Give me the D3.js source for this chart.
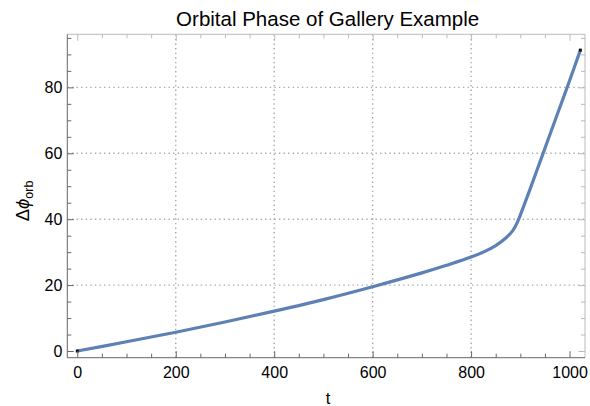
<!DOCTYPE html>
<html><head><meta charset="utf-8">
<script src="https://cdn.jsdelivr.net/npm/d3@7"></script>
<style>body{margin:0;background:#fff}svg{display:block}text{font-family:"Liberation Sans",Arial,sans-serif}</style>
</head><body><svg id="c" width="590" height="406"></svg>
<script>
const title = "Orbital Phase of Gallery Example";
const tValues   = [0, 100, 200, 300, 400, 500, 600, 700, 750, 800, 830, 850, 870, 885, 895, 905, 920, 940, 960, 980, 1000, 1022];
const phiValues = [0, 2.8, 5.7, 8.8, 12.1, 15.6, 19.5, 23.7, 26, 28.5, 30.4, 32, 34.2, 36.6, 39.4, 43.2, 49.2, 57.4, 65.6, 73.8, 82, 91.3];
const xTicks = [0, 200, 400, 600, 800, 1000];
const yTicks = [0, 20, 40, 60, 80];
const xGrid = [200, 400, 600, 800];
const yGrid = [20, 40, 60, 80];

const svg = d3.select("#c");
const L = 67.3, R = 585, T = 34.3, B = 357.7;
const x = d3.scaleLinear().domain([-20.3, 1031.4]).range([L, R]);
const y = d3.scaleLinear().domain([-2.03, 96.1]).range([B, T]);

// grid
svg.append("g").selectAll("line").data(xGrid).join("line")
  .attr("x1", d => x(d)).attr("x2", d => x(d)).attr("y1", T).attr("y2", B)
  .attr("stroke", "#aaa").attr("stroke-width", 1.4).attr("stroke-dasharray", "1.4,3.2");
svg.append("g").selectAll("line").data(yGrid).join("line")
  .attr("y1", d => y(d)).attr("y2", d => y(d)).attr("x1", L).attr("x2", R)
  .attr("stroke", "#aaa").attr("stroke-width", 1.4).attr("stroke-dasharray", "1.4,3.2");

// curve
const data = tValues.map((t, i) => [t, phiValues[i]]);
svg.append("path").datum(data)
  .attr("d", d3.line().x(d => x(d[0])).y(d => y(d[1])).curve(d3.curveCatmullRom.alpha(0.5)))
  .attr("fill", "none").attr("stroke", "#5e81b5").attr("stroke-width", 3.2).attr("stroke-linecap", "butt");
svg.append("g").selectAll("rect").data([data[0], data[data.length - 1]]).join("rect")
  .attr("x", d => x(d[0]) - 1.5).attr("y", d => y(d[1]) - 1.5).attr("width", 3).attr("height", 3).attr("fill", "#111");

// axes
const fmt = d3.format("d");
function style(g, col, textCol) {
  g.select(".domain").remove();
  g.selectAll(".tick line").attr("stroke", col);
  g.selectAll(".tick text").attr("fill", textCol).style("font-size", "16px")
    .style("font-family", "'Liberation Sans', Arial, sans-serif");
}
const xMinor = d3.range(0, 1031, 50).filter(v => v % 200 !== 0);
const yMinor = d3.range(0, 96, 5).filter(v => v % 20 !== 0);

svg.append("g").attr("transform", `translate(0,${B})`)
  .call(d3.axisBottom(x).tickValues(xTicks).tickFormat(fmt).tickSize(-6.5).tickPadding(9))
  .call(g => style(g, "#666", "#000"));
svg.append("g").attr("transform", `translate(0,${B})`)
  .call(d3.axisBottom(x).tickValues(xMinor).tickFormat("").tickSize(-4))
  .call(g => style(g, "#666", "#000"));
svg.append("g").attr("transform", `translate(0,${T})`)
  .call(d3.axisTop(x).tickValues(xTicks).tickFormat("").tickSize(-6.5))
  .call(g => style(g, "#bbb", "#000"));
svg.append("g").attr("transform", `translate(0,${T})`)
  .call(d3.axisTop(x).tickValues(xMinor).tickFormat("").tickSize(-4))
  .call(g => style(g, "#bbb", "#000"));
svg.append("g").attr("transform", `translate(${L},0)`)
  .call(d3.axisLeft(y).tickValues(yTicks).tickFormat(fmt).tickSize(-6.5).tickPadding(5))
  .call(g => style(g, "#666", "#000"));
svg.append("g").attr("transform", `translate(${L},0)`)
  .call(d3.axisLeft(y).tickValues(yMinor).tickFormat("").tickSize(-4))
  .call(g => style(g, "#666", "#000"));
svg.append("g").attr("transform", `translate(${R},0)`)
  .call(d3.axisRight(y).tickValues(yTicks).tickFormat("").tickSize(-6.5))
  .call(g => style(g, "#bbb", "#000"));
svg.append("g").attr("transform", `translate(${R},0)`)
  .call(d3.axisRight(y).tickValues(yMinor).tickFormat("").tickSize(-4))
  .call(g => style(g, "#bbb", "#000"));

// frame
svg.append("line").attr("x1", L).attr("x2", R).attr("y1", T).attr("y2", T).attr("stroke", "#bbb");
svg.append("line").attr("x1", R).attr("x2", R).attr("y1", T).attr("y2", B).attr("stroke", "#bbb");
svg.append("line").attr("x1", L).attr("x2", R).attr("y1", B).attr("y2", B).attr("stroke", "#666");
svg.append("line").attr("x1", L).attr("x2", L).attr("y1", T).attr("y2", B).attr("stroke", "#666");

// titles
svg.append("text").attr("x", (L + R) / 2 + 1.5).attr("y", 26).attr("text-anchor", "middle")
  .style("font-size", "20.5px").attr("fill", "#000").text(title);
svg.append("text").attr("x", (L + R) / 2 + 2).attr("y", 404).attr("text-anchor", "middle")
  .style("font-size", "16.5px").attr("fill", "#000").text("t");
const yl = svg.append("text").attr("transform", "translate(29,201) rotate(-90)").attr("text-anchor", "middle")
  .style("font-size", "18.5px").attr("fill", "#000");
yl.append("tspan").text("Δ");
yl.append("tspan").style("font-style", "italic").text("ϕ");
yl.append("tspan").attr("dy", 4).style("font-size", "12.5px").text("orb");
</script></body></html>
